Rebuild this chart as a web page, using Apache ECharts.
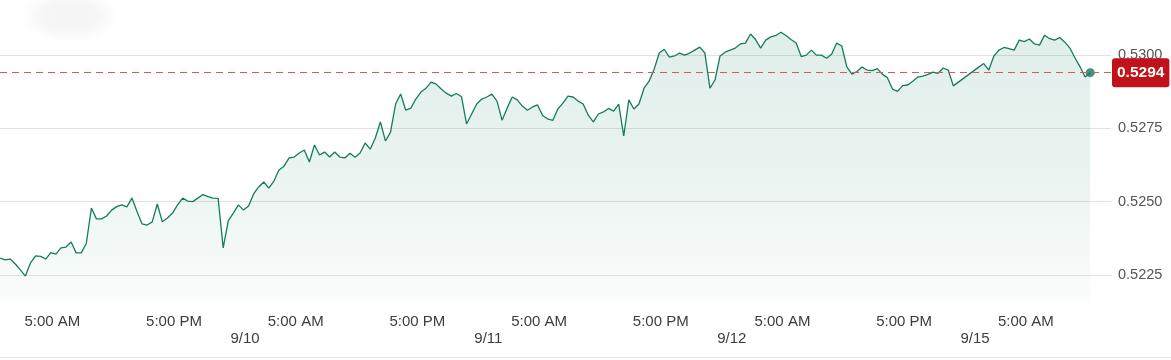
<!DOCTYPE html>
<html>
<head>
<meta charset="utf-8">
<script src="https://cdn.jsdelivr.net/npm/echarts@6/dist/echarts.min.js"></script>
<style>
  html, body { margin: 0; padding: 0; background: #ffffff; }
  #chart { width: 1171px; height: 360px; }
</style>
</head>
<body>
<div id="chart"></div>
<script>
// Compressed trading time in hours since 9/9 00:00 (weekend removed), one reading every half hour
const timeStart = -0.15;
const timeStep = 0.5;

const prices = [
  0.52307, 0.52301, 0.52304, 0.52287, 0.52267, 0.52246, 0.52291, 0.52315, 0.52313, 0.52304,
  0.52326, 0.52321, 0.52342, 0.52345, 0.52362, 0.52325, 0.52325, 0.52357, 0.52478, 0.52441,
  0.52441, 0.52451, 0.52471, 0.52483, 0.52489, 0.52482, 0.52512, 0.52466, 0.52424, 0.52420,
  0.52431, 0.52492, 0.52431, 0.52444, 0.52461, 0.52489, 0.52512, 0.52502, 0.52500, 0.52512,
  0.52524, 0.52517, 0.52512, 0.52511, 0.52342, 0.52434, 0.52461, 0.52489, 0.52471, 0.52485,
  0.52526, 0.52550, 0.52567, 0.52546, 0.52570, 0.52608, 0.52621, 0.52649, 0.52652, 0.52666,
  0.52676, 0.52635, 0.52693, 0.52659, 0.52669, 0.52652, 0.52669, 0.52652, 0.52649, 0.52665,
  0.52651, 0.52666, 0.52700, 0.52679, 0.52717, 0.52772, 0.52707, 0.52737, 0.52833, 0.52867,
  0.52812, 0.52819, 0.52850, 0.52874, 0.52887, 0.52908, 0.52901, 0.52884, 0.52870, 0.52860,
  0.52869, 0.52858, 0.52765, 0.52799, 0.52833, 0.52850, 0.52857, 0.52867, 0.52843, 0.52778,
  0.52819, 0.52857, 0.52847, 0.52826, 0.52812, 0.52823, 0.52830, 0.52794, 0.52782, 0.52777,
  0.52816, 0.52836, 0.52860, 0.52857, 0.52843, 0.52833, 0.52795, 0.52772, 0.52799, 0.52806,
  0.52818, 0.52809, 0.52833, 0.52724, 0.52847, 0.52816, 0.52833, 0.52887, 0.52911, 0.52952,
  0.53007, 0.53020, 0.52993, 0.52997, 0.53007, 0.53000, 0.53007, 0.53017, 0.53027, 0.53007,
  0.52887, 0.52915, 0.52997, 0.53010, 0.53017, 0.53024, 0.53038, 0.53041, 0.53072, 0.53053,
  0.53024, 0.53051, 0.53062, 0.53067, 0.53078, 0.53067, 0.53053, 0.53041, 0.52995, 0.53000,
  0.53017, 0.53000, 0.53000, 0.52989, 0.53003, 0.53041, 0.53031, 0.52960, 0.52935, 0.52944,
  0.52959, 0.52949, 0.52947, 0.52954, 0.52935, 0.52923, 0.52884, 0.52876, 0.52896, 0.52898,
  0.52911, 0.52925, 0.52928, 0.52934, 0.52942, 0.52938, 0.52956, 0.52949, 0.52895, null,
  null, null, null, 0.52959, 0.52971, 0.52949, 0.52997, 0.53017, 0.53026, 0.53022,
  0.53017, 0.53051, 0.53046, 0.53055, 0.53038, 0.53034, 0.53068, 0.53056, 0.53051, 0.53060,
  0.53044, 0.53024, 0.52990, 0.52960, 0.52925, 0.52940
];

const lastPrice = 0.5294;

const timeTickHours = [5, 17, 29, 41, 53, 65, 77, 89, 101];
const timeTickLabels = ['5:00 AM', '5:00 PM', '5:00 AM', '5:00 PM', '5:00 AM', '5:00 PM', '5:00 AM', '5:00 PM', '5:00 AM'];
const dateTickHours = [24, 48, 72, 96];
const dateTickLabels = ['9/10', '9/11', '9/12', '9/15'];
const priceTicks = [0.5225, 0.5250, 0.5275, 0.5300];

const xMin = -0.16, xMax = 109.4;
const yMin = 0.52154, yMax = 0.53188;

const seriesData = prices.map((v, i) => [timeStart + i * timeStep, v]);
const lastIndex = prices.length - 1;

function labelFor(values, labels) {
  return function (v) {
    let best = -1, bd = Infinity;
    values.forEach((t, k) => { const d = Math.abs(t - v); if (d < bd) { bd = d; best = k; } });
    return bd < 0.01 ? labels[best] : '';
  };
}

const FONT = '"Liberation Sans", Arial, sans-serif';
const chart = echarts.init(document.getElementById('chart'), null, { renderer: 'canvas' });

chart.setOption({
  animation: false,
  backgroundColor: '#ffffff',
  grid: { left: 0, right: 60, top: 0, bottom: 57, containLabel: false },
  graphic: [
    {
      type: 'rect',
      x: 70, y: 16, scaleX: 1.75, scaleY: 0.95,
      shape: { x: -28, y: -28, width: 56, height: 56 },
      style: {
        fill: new echarts.graphic.RadialGradient(0.5, 0.5, 0.5, [
          { offset: 0, color: 'rgba(0,0,0,0.045)' },
          { offset: 0.55, color: 'rgba(0,0,0,0.035)' },
          { offset: 1, color: 'rgba(0,0,0,0)' }
        ])
      },
      silent: true, z: -1
    },
    {
      type: 'line',
      shape: { x1: 0, y1: 357.5, x2: 1171, y2: 357.5 },
      style: { stroke: '#e4e4e4', lineWidth: 1 },
      silent: true
    }
  ],
  xAxis: [
    {
      type: 'value', min: xMin, max: xMax,
      axisLine: { show: false }, axisTick: { show: false }, splitLine: { show: false },
      axisLabel: {
        customValues: timeTickHours,
        formatter: labelFor(timeTickHours, timeTickLabels),
        color: '#3d3d3d', fontSize: 15, fontFamily: FONT, margin: 11
      }
    },
    {
      type: 'value', min: xMin, max: xMax, position: 'bottom',
      axisLine: { show: false }, axisTick: { show: false }, splitLine: { show: false },
      axisLabel: {
        customValues: dateTickHours,
        formatter: labelFor(dateTickHours, dateTickLabels),
        color: '#3d3d3d', fontSize: 15, fontFamily: FONT, margin: 28
      }
    }
  ],
  yAxis: {
    type: 'value', position: 'right', min: yMin, max: yMax,
    axisLine: { show: false },
    axisTick: { show: false, customValues: priceTicks },
    splitLine: { show: true, lineStyle: { color: '#e2e2e2', width: 1 } },
    axisLabel: {
      customValues: priceTicks,
      formatter: v => v.toFixed(4),
      hideOverlap: false,
      color: '#555555', fontSize: 14.5, fontFamily: FONT, margin: 7
    }
  },
  series: [
    {
      type: 'line',
      xAxisIndex: 0, yAxisIndex: 0,
      data: seriesData,
      showSymbol: false,
      connectNulls: true,
      lineStyle: { color: '#147b61', width: 1.3 },
      areaStyle: {
        color: new echarts.graphic.LinearGradient(0, 0, 0, 1, [
          { offset: 0, color: 'rgba(20,128,98,0.19)' },
          { offset: 0.5, color: 'rgba(20,128,98,0.13)' },
          { offset: 0.85, color: 'rgba(20,128,98,0.06)' },
          { offset: 1, color: 'rgba(20,128,98,0.02)' }
        ])
      },
      markLine: {
        silent: true,
        symbol: 'none',
        precision: 6,
        data: [{ yAxis: lastPrice }],
        lineStyle: { color: '#d65a5a', type: [7, 5], width: 1.2, opacity: 1 },
        itemStyle: { color: '#d65a5a' },
        label: {
          position: 'end',
          formatter: () => lastPrice.toFixed(4),
          color: '#ffffff',
          backgroundColor: '#c1121a',
          fontWeight: 'bold',
          fontSize: 15.5,
          fontFamily: FONT,
          lineHeight: 16,
          padding: [7, 5, 6, 5],
          borderRadius: 3,
          distance: 1
        },
        z: 10
      }
    },
    {
      type: 'scatter',
      xAxisIndex: 0, yAxisIndex: 0,
      data: [[timeStart + lastIndex * timeStep, prices[lastIndex]]],
      symbolSize: 9,
      itemStyle: { color: '#0f7a5e' },
      z: 5
    }
  ]
});
</script>
</body>
</html>
